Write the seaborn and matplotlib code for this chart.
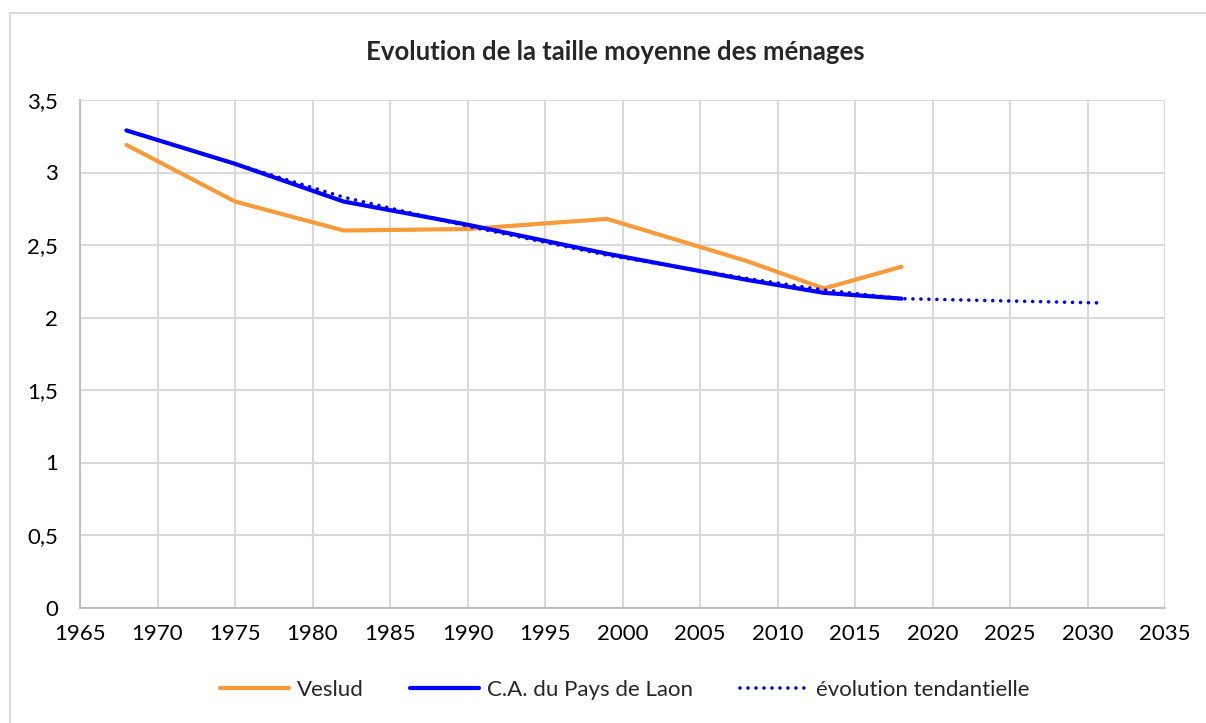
import matplotlib
matplotlib.use("Agg")
import matplotlib.pyplot as plt
from matplotlib.patches import Rectangle
from matplotlib.lines import Line2D
from matplotlib.ticker import FuncFormatter, MultipleLocator
import pandas as pd
import seaborn as sns

# Census years and average household size
years = [1968, 1975, 1982, 1990, 1999, 2008, 2013, 2018]
veslud = [3.19, 2.80, 2.60, 2.61, 2.68, 2.39, 2.20, 2.35]
ca_laon = [3.29, 3.06, 2.80, 2.64, 2.44, 2.26, 2.17, 2.13]

# Trend line, extended to 2031
trend_years = [1968, 1975, 1982, 1990, 1999, 2008, 2013, 2018, 2031]
trend = [3.29, 3.06, 2.83, 2.63, 2.43, 2.27, 2.19, 2.13, 2.10]

labels = ["Veslud", "C.A. du Pays de Laon", "évolution tendantielle"]
title = "Evolution de la taille moyenne des ménages"

df = pd.concat([
    pd.DataFrame({"annee": years, "taille": veslud, "serie": labels[0]}),
    pd.DataFrame({"annee": years, "taille": ca_laon, "serie": labels[1]}),
    pd.DataFrame({"annee": trend_years, "taille": trend, "serie": labels[2]}),
])

sns.set_theme(style="white")
plt.rcParams["font.family"] = ["Lato", "DejaVu Sans"]

fig = plt.figure(figsize=(12.06, 7.23), dpi=100)
W, H = 1206, 723
ax = fig.add_axes([80 / W, 1 - 607.5 / H, (1165 - 80) / W, (607.5 - 100) / H])

ORANGE, BLUE = "#f79a3a", "#0000ff"
palette = {labels[0]: ORANGE, labels[1]: BLUE, labels[2]: BLUE}
sizes = {labels[0]: 3.0, labels[1]: 3.0, labels[2]: 2.6}
DOT = (0.01, 2.2)
dashes = {labels[0]: "", labels[1]: "", labels[2]: DOT}

sns.lineplot(data=df, x="annee", y="taille", hue="serie", style="serie",
             size="serie", sizes=sizes, palette=palette, dashes=dashes,
             ax=ax, legend=False, sort=False, zorder=3)
for line in ax.get_lines():
    line.set_solid_capstyle("round")
    line.set_dash_capstyle("round")
ax.get_lines()[2].set_zorder(4)

ax.set_xlim(1965, 2035)
ax.set_ylim(0, 3.5)
ax.xaxis.set_major_locator(MultipleLocator(5))
ax.yaxis.set_major_locator(MultipleLocator(0.5))
ax.yaxis.set_major_formatter(FuncFormatter(
    lambda v, _: ("%g" % v).replace(".", ",")))
ax.grid(True, color="#d9d9d9", linewidth=1.5)
ax.set_axisbelow(True)
for side in ["top", "right"]:
    ax.spines[side].set_visible(False)
for side in ["left", "bottom"]:
    ax.spines[side].set_color("#bfbfbf")
    ax.spines[side].set_linewidth(1.5)
ax.tick_params(axis="both", length=0, labelsize=16, colors="#000000")
ax.tick_params(axis="y", pad=16)
ax.tick_params(axis="x", pad=12)
ax.set_xlabel("")
ax.set_ylabel("")

fig.text(615 / W, 1 - 52 / H, title, ha="center", va="center",
         fontsize=18.5, fontweight="bold")

# legend
handles = [
    Line2D([], [], color=ORANGE, lw=3.0),
    Line2D([], [], color=BLUE, lw=3.0),
    Line2D([], [], color=BLUE, lw=2.6, linestyle=(0, DOT),
           dash_capstyle="round"),
]
fig.legend(handles, labels, loc="center", bbox_to_anchor=(625 / W, 1 - 690 / H),
           ncol=3, frameon=False, fontsize=16, handlelength=3.1,
           handletextpad=0.35, columnspacing=2.1)

# chart frame
fig.add_artist(Rectangle((10 / W, -0.1), 1.2, (1 - 13 / H) + 0.1,
                         transform=fig.transFigure, fill=False,
                         edgecolor="#d9d9d9", linewidth=1.5))

fig.savefig("out.png", dpi=100)
